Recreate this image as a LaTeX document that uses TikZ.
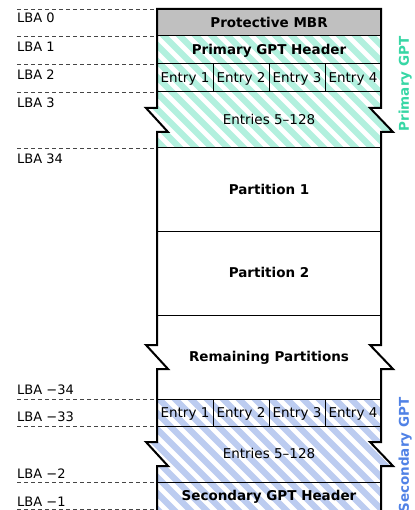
\documentclass[tikz,border=0pt]{standalone}
\usepackage{fontspec}
\setmainfont{DejaVu Sans}
\usetikzlibrary{positioning}
\definecolor{mint}{RGB}{178,240,222}
\definecolor{mintdark}{RGB}{55,215,165}
\definecolor{lavender}{RGB}{188,204,240}
\definecolor{bluedark}{RGB}{80,130,230}
\definecolor{mbrgray}{RGB}{192,192,192}
\definecolor{dashgray}{RGB}{70,70,70}

% outline of the disk with its three breaks
\newcommand{\diskshape}[1]{\path[#1] (157,9) -- (381,9) -- (381,108) -- (370,108) -- (393,132) -- (381,132)
  -- (381,345) -- (370,345) -- (393,369) -- (381,369)
  -- (381,442) -- (370,442) -- (393,466) -- (381,466) -- (381,520) -- (157,520)
  -- (157,466) -- (168,466) -- (146,442) -- (157,442)
  -- (157,369) -- (168,369) -- (146,345) -- (157,345)
  -- (157,132) -- (168,132) -- (146,108) -- (157,108) -- cycle;}

% striped band between two heights
\newcommand{\hatchband}[3]{%
  \begin{scope}
    \diskshape{clip}
    \clip (0,#2) rectangle (414,#3);
    \foreach \k in {-30,...,30}
      \draw[#1, line width=6.2pt] (\k*16,0) -- ++(560,560);
  \end{scope}}

\begin{document}
\begin{tikzpicture}[x=1pt,y=-1pt,
  cell/.style={font=\fontsize{13.5}{16}\selectfont\bfseries, text height=9.8pt, text depth=0pt},
  entry/.style={font=\fontsize{13.5}{16}\selectfont, text height=9.8pt, text depth=0pt},
  lba/.style={font=\fontsize{13}{15}\selectfont, anchor=base west, inner sep=0pt},
  sidelabel/.style={font=\fontsize{13.5}{16}\selectfont\bfseries, rotate=90, text height=9.8pt, text depth=0pt},
  divider/.style={line width=1pt},
  lbaline/.style={dashgray, line width=0.9pt, dash pattern=on 4pt off 3pt}]
\useasboundingbox (0,0) rectangle (414,510);
\clip (0,0) rectangle (414,510);
\fill[white] (0,0) rectangle (414,510);

    % fills
    \fill[mbrgray] (157,9) rectangle (381,36);
    \hatchband{mint}{36}{148}
    \hatchband{lavender}{399}{520}

    % row dividers
    \foreach \y in {36,64,92,148,231,315,399,426,482}
        \draw[divider] (157,\y) -- (381,\y);
    \foreach \y/\h in {64/92,399/426}
        \foreach \x in {213,269,325} \draw[divider] (\x,\y) -- (\x,\h);

    % sector lines
    \foreach \y in {9,36,64,92,148,399,426,482,509.5}
        \draw[lbaline] (17,\y) -- (157,\y);

    \diskshape{draw, line width=2pt}

    % cells
    \node[cell] (mbr) at (269,22.5) {Protective MBR};
    \node[cell] (primhead) at (269,50) {Primary GPT Header};
    \foreach \i/\x in {1/185,2/241,3/297,4/353}
        \node[entry] (primentry\i) at (\x,78) {Entry \i};
    \node[entry] (primrest) at (269,120) {Entries 5–128};
    \node[cell] (part1) at (269,189.5) {Partition 1};
    \node[cell] (part2) at (269,273) {Partition 2};
    \node[cell] (partrest) at (269,357) {Remaining Partitions};
    \foreach \i/\x in {1/185,2/241,3/297,4/353}
        \node[entry] (secentry\i) at (\x,412.5) {Entry \i};
    \node[entry] (secrest) at (269,454) {Entries 5–128};
    \node[cell] (sechead) at (269,496) {Secondary GPT Header};

    % labels
    \node[lba] (lba0) at (17,23) {LBA 0};
    \node[lba] (lba1) at (17,52) {LBA 1};
    \node[lba] (lba2) at (17,80) {LBA 2};
    \node[lba] (lba3) at (17,108) {LBA 3};
    \node[lba] (lba34) at (17,164) {LBA 34};
    \node[lba] (lbam34) at (17,394) {LBA −34};
    \node[lba] (lbam33) at (17,421) {LBA −33};
    \node[lba] (lbam2) at (17,478) {LBA −2};
    \node[lba] (lbam1) at (17,506) {LBA −1};

    \node[sidelabel, mintdark] (primgpt) at (404,84) {Primary GPT};
    \node[sidelabel, bluedark] (secgpt) at (404,455) {Secondary GPT};
\end{tikzpicture}
\end{document}
